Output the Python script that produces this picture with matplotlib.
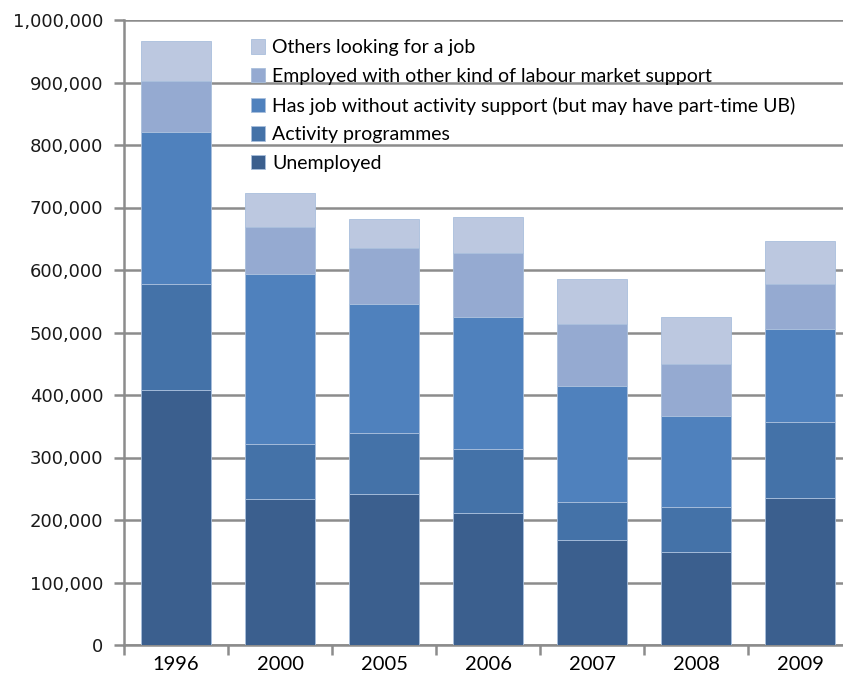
"""Stacked bar chart: people registered with the employment service, by status."""

import matplotlib
matplotlib.use("Agg")
import matplotlib.pyplot as plt
from matplotlib.ticker import FuncFormatter

YEARS = ["1996", "2000", "2005", "2006", "2007", "2008", "2009"]

# Values per status group (persons)
UNEMPLOYED = [408000, 234000, 242000, 211000, 168000, 149000, 236000]
ACTIVITY = [170000, 88000, 97000, 103000, 61000, 72000, 121000]
HAS_JOB = [243000, 272000, 207000, 211000, 185000, 145000, 149000]
EMPLOYED_OTHER = [81000, 75000, 89000, 102000, 100000, 84000, 72000]
OTHERS = [64000, 54000, 47000, 58000, 72000, 75000, 68000]

SERIES_LABELS = [
    "Unemployed",
    "Activity programmes",
    "Has job without activity support (but may have part-time UB)",
    "Employed with other kind of labour market support",
    "Others looking for a job",
]
COLORS = ["#3b5f8e", "#4472a8", "#4f81bd", "#95aad1", "#bcc8e0"]

LABEL_FONT = ["Lato", "DejaVu Sans"]
GRID_GREY = "#8c8c8c"


def main():
    fig = plt.figure(figsize=(8.43, 6.87), dpi=100)
    ax = fig.add_axes([124 / 843, 42 / 687, 719 / 843, 625 / 687])

    series = [UNEMPLOYED, ACTIVITY, HAS_JOB, EMPLOYED_OTHER, OTHERS]
    x = list(range(len(YEARS)))
    bottom = [0] * len(YEARS)
    handles = []
    for values, label, color in zip(series, SERIES_LABELS, COLORS):
        bars = ax.bar(x, values, width=0.67, bottom=bottom, color=color,
                      edgecolor="#a9bfdc", linewidth=0.6, label=label, zorder=3)
        handles.append(bars)
        bottom = [b + v for b, v in zip(bottom, values)]

    ax.set_xlim(-0.5, 6.41)
    ax.set_ylim(0, 1_000_000)
    ax.set_yticks(range(0, 1_000_001, 100_000))
    ax.yaxis.set_major_formatter(FuncFormatter(lambda v, _: f"{int(v):,}"))
    ax.yaxis.grid(True, color=GRID_GREY, linewidth=1.8, zorder=0)
    ax.set_axisbelow(True)

    # category labels sit at the centres, tick marks between categories
    ax.set_xticks(x)
    ax.set_xticklabels(YEARS, family=LABEL_FONT, fontsize=14.5)
    ax.set_xticks([i - 0.5 for i in x], minor=True)
    ax.tick_params(axis="x", which="major", length=0, pad=8)
    ax.tick_params(axis="x", which="minor", length=7, width=1.8, color=GRID_GREY)
    ax.tick_params(axis="y", length=7, width=1.8, color=GRID_GREY,
                   labelsize=13, labelcolor="#1a1a1a", pad=8)

    for side in ("top", "right"):
        ax.spines[side].set_visible(False)
    for side in ("left", "bottom"):
        ax.spines[side].set_color(GRID_GREY)
        ax.spines[side].set_linewidth(1.8)

    ax.legend(handles[::-1], SERIES_LABELS[::-1], loc="upper left",
              bbox_to_anchor=(0.16, 0.988), frameon=False,
              prop={"family": LABEL_FONT, "size": 14},
              handlelength=0.75, handleheight=0.75, handletextpad=0.35,
              labelspacing=0.6, borderaxespad=0.2)

    fig.savefig("out.png", dpi=100)
    plt.close(fig)


if __name__ == "__main__":
    main()
